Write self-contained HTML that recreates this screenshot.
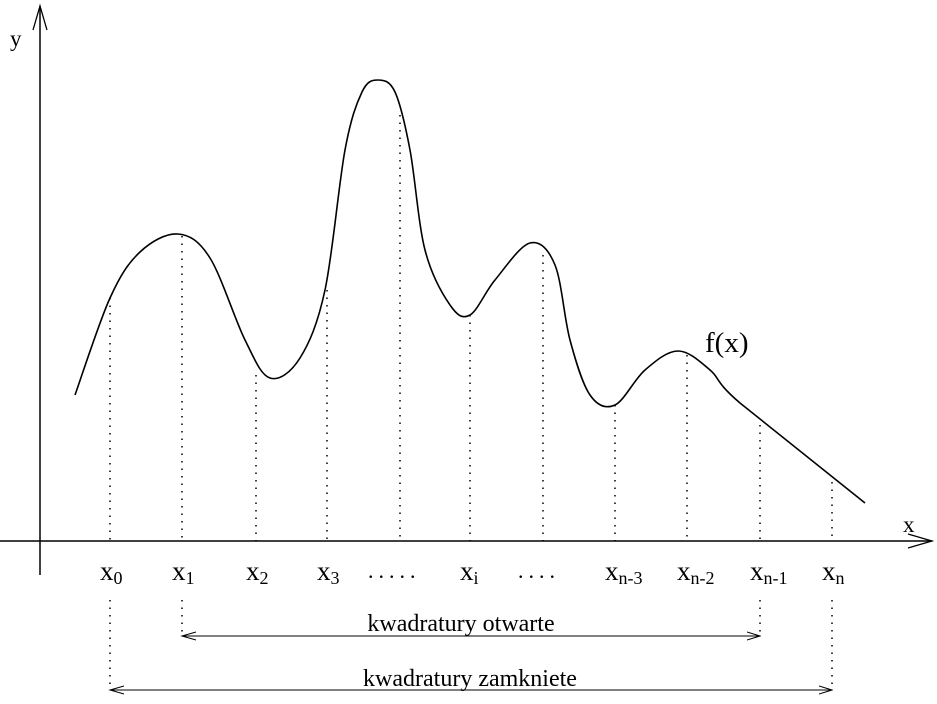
<!DOCTYPE html>
<html><head><meta charset="utf-8"><style>
body{margin:0;background:#fff}
svg{display:block}
text{font-family:"Liberation Serif",serif;fill:#000}
</style></head><body>
<svg id="c" width="937" height="704" viewBox="0 0 937 704">
<defs><marker id="ah" markerWidth="14" markerHeight="10" refX="13" refY="5" orient="auto" markerUnits="userSpaceOnUse"><path d="M0,1 L13,5 L0,9" fill="none" stroke="#000" stroke-width="1"/></marker></defs>
<line x1="40" y1="575" x2="40" y2="6" stroke="#000" stroke-width="1.5"/>
<path d="M33,30 L40,6 L47,30" fill="none" stroke="#000" stroke-width="1.3"/>
<line x1="0" y1="541" x2="932" y2="541" stroke="#000" stroke-width="1.5"/>
<path d="M908,534 L932,541 L908,548" fill="none" stroke="#000" stroke-width="1.3"/>
<text x="10" y="46" font-size="23">y</text>
<text x="903" y="532" font-size="23">x</text>
<text x="705" y="352" font-size="29">f(x)</text>
<g id="g"></g>
<text x="368" y="578" font-size="22" letter-spacing="5">.....</text>
<text x="518" y="578" font-size="22" letter-spacing="5">....</text>
<line x1="182" y1="636" x2="760" y2="636" stroke="#000" stroke-width="1" marker-end="url(#ah)"/>
<path d="M196,632 L182,636 L196,640" fill="none" stroke="#000" stroke-width="1"/>
<text x="461" y="631" font-size="24" text-anchor="middle">kwadratury otwarte</text>
<line x1="110" y1="690" x2="832" y2="690" stroke="#000" stroke-width="1" marker-end="url(#ah)"/>
<path d="M124,686 L110,690 L124,694" fill="none" stroke="#000" stroke-width="1"/>
<text x="470" y="686" font-size="24" text-anchor="middle">kwadratury zamkniete</text>
</svg>
<script>
// curve sample points (data units: px offset from origin at (40,541))
const curveX=[35,70,100,138,170,205,230,260,285,305,322,338,355,370,385,410,430,455,490,515,530,550,575,605,638,670,700,825];
const curveY=[146,243,289,307,283,201,163,183,251,391,449,461,449,391,291,236,226,261,298,276,201,146,136,171,190,171,138,38];
// node positions and f(node)
const nodeX=[70,142,216,287,360,430,503,575,647,720,792];
const nodeF=[243,305,166,251,426,226,286,136,186,116,59];
const nodeLabels=["0","1","2","3",null,"i",null,"n-3","n-2","n-1","n"];
const ox=40,oy=541;
const sx=v=>ox+v, sy=v=>oy-v;
const svg=document.getElementById('c'),g=document.getElementById('g'),NS="http://www.w3.org/2000/svg";
const P=curveX.map((x,i)=>[sx(x),sy(curveY[i])]);
let d=`M${P[0][0]},${P[0][1]}`;
for(let i=0;i<P.length-1;i++){
 const p0=P[Math.max(0,i-1)],p1=P[i],p2=P[i+1],p3=P[Math.min(P.length-1,i+2)];
 if(i===P.length-2){d+=` L${p2[0]},${p2[1]}`;continue;}
 d+=` C${p1[0]+(p2[0]-p0[0])/6},${p1[1]+(p2[1]-p0[1])/6} ${p2[0]-(p3[0]-p1[0])/6},${p2[1]-(p3[1]-p1[1])/6} ${p2[0]},${p2[1]}`;
}
const c=document.createElementNS(NS,'path');
c.setAttribute('d',d);c.setAttribute('fill','none');c.setAttribute('stroke','#000');c.setAttribute('stroke-width','1.6');


g.appendChild(c);
nodeX.forEach((x,i)=>{
 const l=document.createElementNS(NS,'line');
 l.setAttribute('x1',sx(x));l.setAttribute('x2',sx(x));l.setAttribute('y1',sy(nodeF[i]));l.setAttribute('y2',oy);
 l.setAttribute('stroke','#000');l.setAttribute('stroke-width','1.5');l.setAttribute('stroke-dasharray','1.5 6');
 
 
 g.appendChild(l);
 if(nodeLabels[i]!==null){
  const t=document.createElementNS(NS,'text');
  t.setAttribute('x',sx(x)-10);t.setAttribute('y',580);t.setAttribute('font-size','27');
  t.innerHTML=`x<tspan font-size="18" dy="4">${nodeLabels[i]}</tspan>`;
  
  
  g.appendChild(t);
 }
});
[[0,690],[1,636],[9,636],[10,690]].forEach(([i,y2])=>{
 const l=document.createElementNS(NS,'line');
 l.setAttribute('x1',sx(nodeX[i]));l.setAttribute('x2',sx(nodeX[i]));l.setAttribute('y1',600);l.setAttribute('y2',y2);
 l.setAttribute('stroke','#000');l.setAttribute('stroke-width','1.5');l.setAttribute('stroke-dasharray','1.5 6');
 
 
 g.appendChild(l);
});
</script>
</body></html>
